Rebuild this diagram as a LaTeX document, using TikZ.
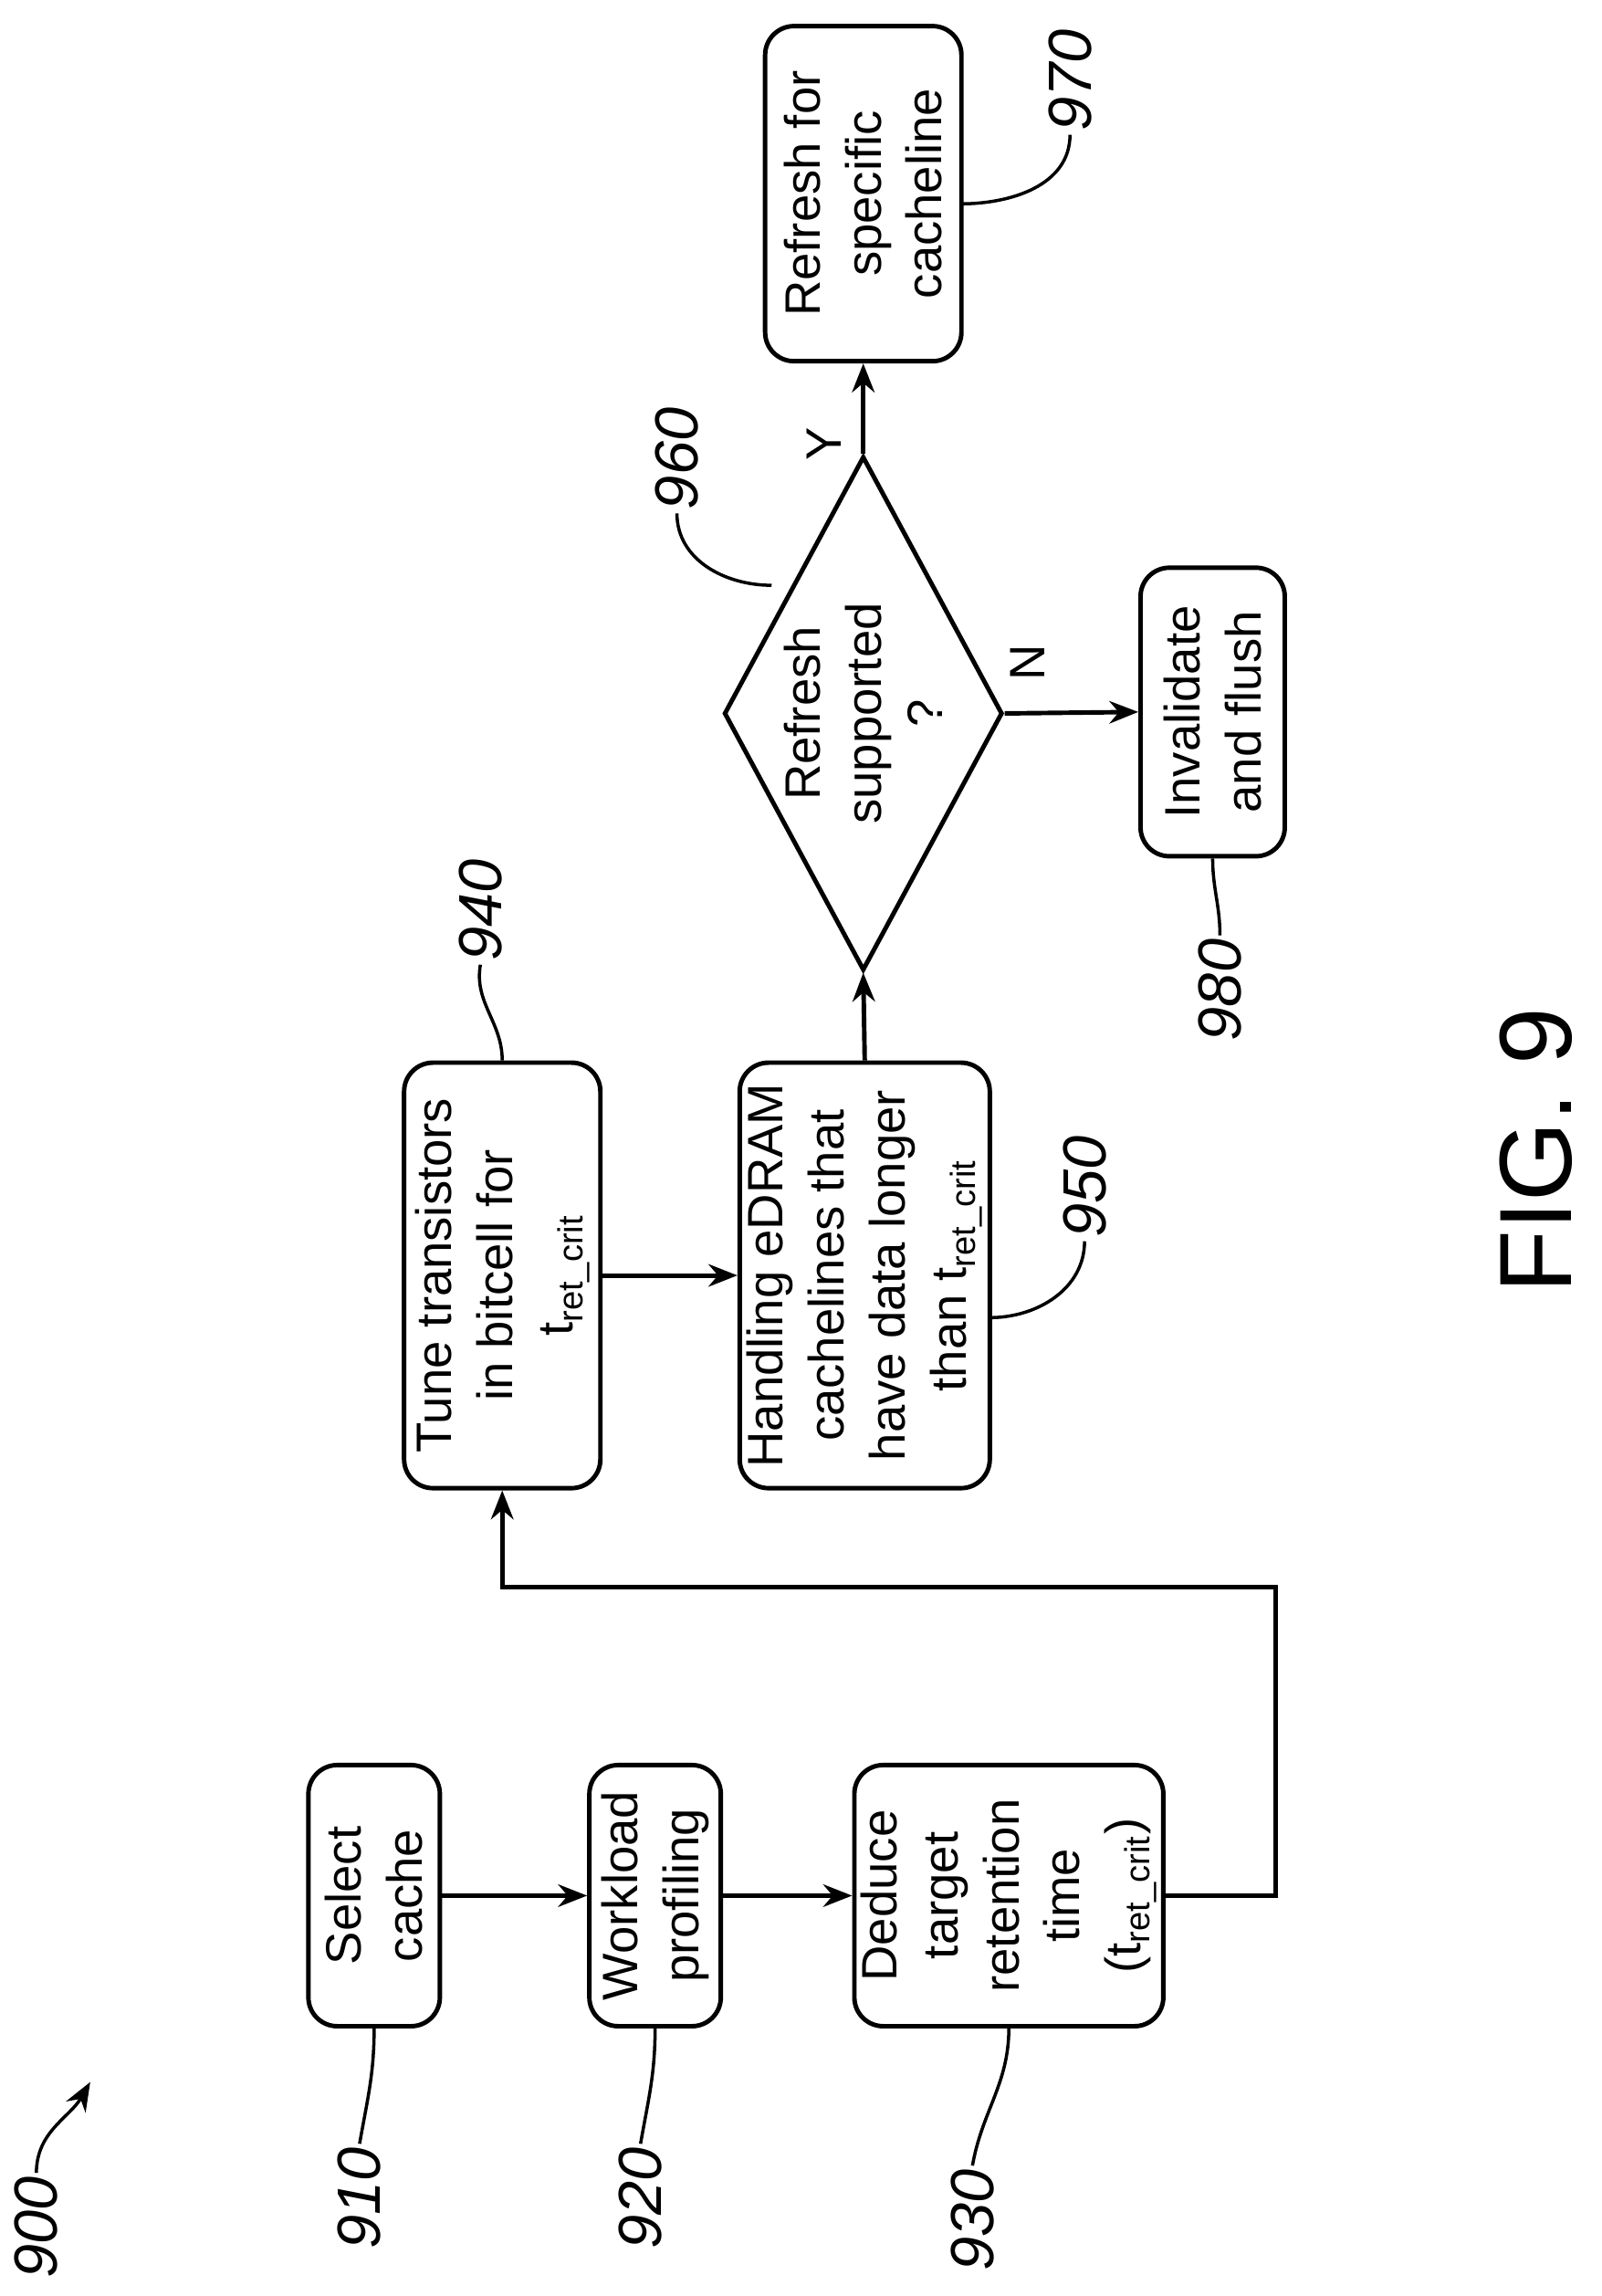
\documentclass[tikz,border=0pt]{standalone}
\usepackage{fontspec}
\setmainfont{Liberation Sans}
\usetikzlibrary{arrows.meta,shapes.geometric,positioning}

\begin{document}
\begin{tikzpicture}[x=0.015945cm, y=-0.015945cm, >={Stealth[length=9pt,width=7pt]},
    every node/.style={font=\fontsize{15.5}{19}\selectfont},
    box/.style={draw, line width=1.4pt, rounded corners=9pt, rotate=90, align=center, inner sep=2pt},
    decision/.style={draw, line width=1.4pt, diamond, aspect=1.85, rotate=90, align=center, inner sep=0pt},
    flow/.style={->, line width=1.4pt},
    lead/.style={line width=1pt},
    branch/.style={rotate=90, inner sep=1pt},
    refnum/.style={rotate=90, font=\itshape\fontsize{19}{22}\selectfont, inner sep=1pt}]

    \useasboundingbox (0,0) rectangle (1100,1577);

    % process boxes
    \node (selcache) [box, minimum width=2.86cm, minimum height=1.44cm] at (257,1302) {Select\\cache};
    \node (profile)  [box, minimum width=2.86cm, minimum height=1.44cm] at (450,1302) {Workload\\profiling};
    \node (deduce)   [box, minimum width=2.86cm, minimum height=3.08cm] at (693,1302) {Deduce\\target\\retention\\time\\(t\textsubscript{ret\_crit})};
    \node (tune)     [box, minimum width=4.66cm, minimum height=2.15cm] at (345,876) {Tune transistors\\in bitcell for\\t\textsubscript{ret\_crit}};
    \node (handle)   [box, minimum width=4.66cm, minimum height=2.74cm] at (594,876) {Handling eDRAM\\cachelines that\\have data longer\\than t\textsubscript{ret\_crit}};
    \node (refsup)   [decision, minimum width=5.63cm, minimum height=3.05cm] at (593,490) {Refresh\\supported\\?};
    \node (refresh)  [box, minimum width=3.67cm, minimum height=2.15cm] at (593,133) {Refresh for\\specific\\cacheline};
    \node (flush)    [box, minimum width=3.16cm, minimum height=1.58cm] at (833,489) {Invalidate\\and flush};

    % flow
    \draw[flow] (selcache) -- (profile);
    \draw[flow] (profile) -- (deduce);
    \draw[flow] (deduce.south) -| (876,1090) -| (tune.west);
    \draw[flow] (tune) -- (handle);
    \draw[flow] (handle.east) -- (refsup.west);
    \draw[flow] (refsup.east) -- (refresh.west);
    \draw[flow] (refsup.south) -- (flush.north);
    \node (yes) [branch] at (566,305) {Y};
    \node (no)  [branch] at (706,455) {N};

    % reference numerals
    \node (n900) [refnum] at (25,1530) {900};
    \coordinate (a900) at (62,1430);
    \draw[->, lead] (n900.east) to[out=90, in=-120] (a900);

    \node (n910) [refnum] at (247,1510) {910};
    \draw[lead] (n910.east) to[out=80, in=-90] (selcache.west);
    \node (n920) [refnum] at (440,1510) {920};
    \draw[lead] (n920.east) to[out=80, in=-90] (profile.west);
    \node (n930) [refnum] at (668,1525) {930};
    \draw[lead] (n930.east) to[out=80, in=-90] (deduce.west);
    \node (n940) [refnum] at (330,625) {940};
    \draw[lead] (n940.west) to[out=-100, in=90] (tune.east);
    \node (n950) [refnum] at (745,815) {950};
    \coordinate (e950) at (680,905);
    \draw[lead] (n950.west) to[out=-90, in=0] (e950);
    \node (n960) [refnum] at (465,315) {960};
    \coordinate (e960) at (530,402);
    \draw[lead] (n960.west) to[out=-90, in=180] (e960);
    \node (n970) [refnum] at (735,55) {970};
    \coordinate (e970) at (660,140);
    \draw[lead] (n970.west) to[out=-90, in=0] (e970);
    \node (n980) [refnum] at (838,680) {980};
    \draw[lead] (n980.east) to[out=90, in=-90] (flush.west);

    \node (fig) [rotate=90, font=\fontsize{32}{38}\selectfont] at (1055,790) {FIG. 9};
\end{tikzpicture}
\end{document}
